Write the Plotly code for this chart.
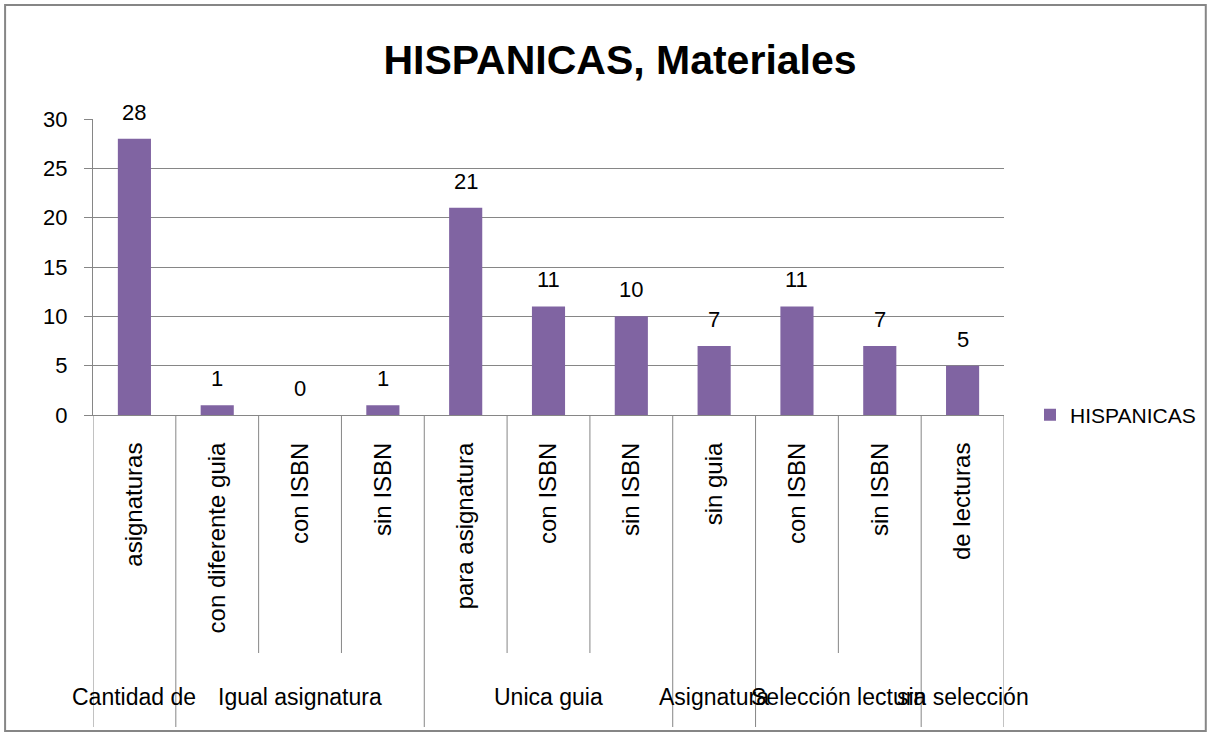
import plotly.graph_objects as go

# ---- data ----
outer_labels = ["Cantidad de", "Igual asignatura", "Igual asignatura", "Igual asignatura",
                "Unica guia", "Unica guia", "Unica guia", "Asignatura",
                "Selección lectura", "Selección lectura", "sin selección"]
inner_labels = ["asignaturas", "con diferente guia", "con ISBN", "sin ISBN",
                "para asignatura", "con ISBN", "sin ISBN", "sin guia",
                "con ISBN", "sin ISBN", "de lecturas"]
values = [28, 1, 0, 1, 21, 11, 10, 7, 11, 7, 5]
series_name = "HISPANICAS"
chart_title = "HISPANICAS, Materiales"
y_ticks = [0, 5, 10, 15, 20, 25, 30]

# ---- style ----
FONT = "Liberation Sans, Arial, sans-serif"
GRAY = "#868686"
BAR = "#8064A2"

W, H = 1212, 736
L, R, T, B = 93, 207, 119, 321
PW, PH = W - L - R, H - T - B

def px_x(px):
    return (px - L) / PW

def px_y(py):
    return (H - B - py) / PH

n = len(inner_labels)
xs = list(range(n))

fig = go.Figure()
fig.add_trace(go.Bar(x=xs, y=values, name=series_name, marker_color=BAR,
                     marker_line_width=0, showlegend=True))

annotations = []
for x, v in zip(xs, values):
    annotations.append(dict(x=x, y=v, xref="x", yref="y", text=str(v), showarrow=False,
                            yanchor="bottom", yshift=12, font=dict(size=22, color="black", family=FONT)))

# outer group labels and dividers
shapes = []
groups = []
start = 0
for i in range(1, n + 1):
    if i == n or outer_labels[i] != outer_labels[start]:
        groups.append((start, i - 1, outer_labels[start]))
        start = i
long_bounds = set()
for s, e, lab in groups:
    long_bounds.add(s - 0.5)
    long_bounds.add(e + 0.5)
    annotations.append(dict(x=(s + e) / 2, y=px_y(697), xref="x", yref="paper", text=lab,
                            showarrow=False, yanchor="middle", xanchor="center",
                            font=dict(size=23, color="black", family=FONT)))
for i in range(n + 1):
    b = i - 0.5
    y1 = px_y(727) if b in long_bounds else px_y(653)
    shapes.append(dict(type="line", xref="x", yref="paper", x0=b, x1=b, y0=0, y1=y1,
                       line=dict(color=GRAY, width=1)))

# chart border
shapes.append(dict(type="rect", xref="paper", yref="paper",
                   x0=px_x(5), x1=px_x(1207), y0=px_y(731), y1=px_y(5),
                   line=dict(color=GRAY, width=2), layer="below"))

fig.update_layout(
    width=W, height=H,
    margin=dict(l=L, r=R, t=T, b=B),
    paper_bgcolor="white", plot_bgcolor="white",
    title=dict(text="<b>" + chart_title + "</b>", x=620 / W, xanchor="center",
               y=1 - 60 / H, yanchor="middle",
               font=dict(size=41, color="black", family=FONT)),
    bargap=0.6,
    font=dict(family=FONT, size=22, color="black"),
    xaxis=dict(range=[-0.5, n - 0.5], tickvals=xs, ticktext=inner_labels, tickangle=-90,
               ticks="", showline=True, linecolor=GRAY, linewidth=1, showgrid=False,
               zeroline=False, ticklabelstandoff=17,
               tickfont=dict(size=24, family=FONT, color="black")),
    yaxis=dict(range=[0, 30], tickvals=y_ticks, ticks="outside", ticklen=8, tickcolor=GRAY,
               showline=True, linecolor=GRAY, linewidth=1, gridcolor=GRAY, gridwidth=1,
               zeroline=False, ticklabelstandoff=12,
               tickfont=dict(size=22, family=FONT, color="black")),
    legend=dict(x=px_x(1030), y=0, xanchor="left", yanchor="middle",
                font=dict(size=21, family=FONT, color="black"), bgcolor="rgba(0,0,0,0)"),
    annotations=annotations,
    shapes=shapes,
)

fig.write_html("out.html", config={"displayModeBar": False},
               post_script="document.body.style.margin='0';document.body.style.overflow='hidden';")
